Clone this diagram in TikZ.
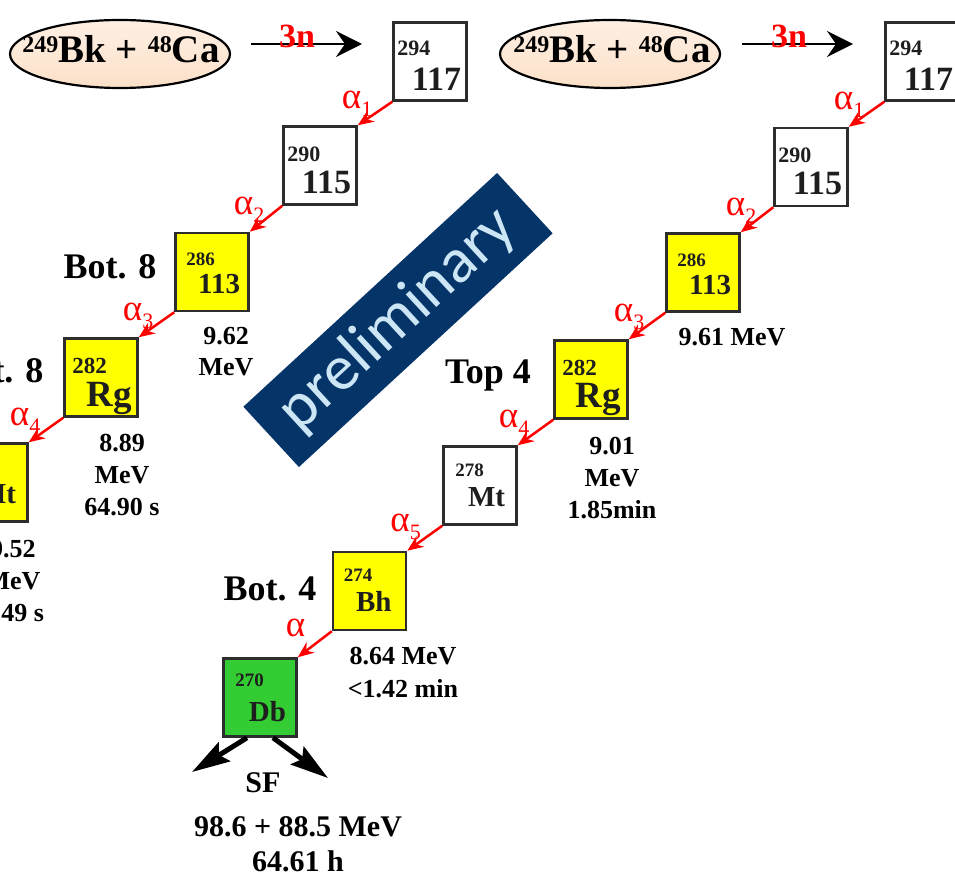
\documentclass[tikz,border=0pt]{standalone}
\usepackage{fontspec}
\setmainfont{Liberation Serif}
\newfontfamily\prelimfont{Carlito}
\usetikzlibrary{calc,arrows.meta,shapes.geometric}
\definecolor{boxline}{RGB}{45,45,45}
\definecolor{nyellow}{RGB}{255,255,0}
\definecolor{ngreen}{RGB}{51,204,51}
\definecolor{bannerblue}{RGB}{4,52,104}
\definecolor{bannertext}{RGB}{205,230,245}
\definecolor{peachA}{RGB}{254,240,228}
\definecolor{peachB}{RGB}{249,203,162}
\definecolor{peachC}{RGB}{252,224,200}
\definecolor{labtext}{RGB}{30,30,30}
\newcommand\fs[1]{\fontsize{#1}{#1}\selectfont}
\newcommand\alp[1]{α\raisebox{-0.22em}{\fs{22}#1}}
\newcommand\nuc[7]{%
  \node[mass,font=\bfseries\fs{#3}] at ($(#1.north west)+(#2)$) {#4};
  \node[sym,font=\bfseries\fs{#6}] at ($(#1.north west)+(#5)$) {#7};}
\tikzset{
  nucbox/.style={draw=boxline, line width=2.5pt, minimum width=73pt, minimum height=78pt, inner sep=0pt},
  mass/.style={inner sep=0pt, anchor=base west, text=labtext},
  sym/.style={inner sep=0pt, anchor=base east, text=labtext},
  adecay/.style={red, line width=2.5pt, -{Stealth[length=16pt,width=13pt]}},
  alab/.style={inner sep=0pt, anchor=base west, text=red, font=\fs{37}},
  info/.style={inner sep=0pt, font=\bfseries\fs{26}, text=black, align=center},
  sfinfo/.style={inner sep=0pt, font=\bfseries\fs{30}, text=black, align=center},
  title/.style={inner sep=0pt, anchor=base, font=\bfseries\fs{36}, text=black},
  ell/.style={ellipse, draw=black, line width=2.2pt, minimum width=220pt, minimum height=68pt, inner sep=0pt,
     top color=peachA, middle color=peachB, bottom color=peachC},
  etext/.style={inner sep=0pt, anchor=base, font=\bfseries\fs{39}, text=black},
  narrow/.style={black, line width=2pt, -{Stealth[length=26pt,width=26pt,inset=9pt]}},
  nlab/.style={inner sep=0pt, anchor=base, text=red, font=\bfseries\fs{34}},
  sfarrow/.style={black, line width=5pt, -{Stealth[length=38pt,width=22pt,inset=6pt]}},
  banner/.style={fill=bannerblue, minimum width=345pt, minimum height=82pt, inner sep=0pt,
     rotate=42.65, text=bannertext, font=\prelimfont\fs{64}}
}
\begin{document}
\begin{tikzpicture}[x=1pt,y=-1pt]
\useasboundingbox (0,0) rectangle (955,877);
\clip (0,0) rectangle (955,877);
\fill[white] (0,0) rectangle (955,877);

% ---------------- reactions
\node[ell] (E1) at (120,54) {};
\node[etext] (E1t) at (121,63) {\raisebox{10pt}{\fs{24}249}Bk + \raisebox{10pt}{\fs{24}48}Ca};
\node[ell] (E2) at (610,54) {};
\node[etext] (E2t) at (612,63) {\raisebox{10pt}{\fs{24}249}Bk + \raisebox{10pt}{\fs{24}48}Ca};
\coordinate (a1s) at (251,44); \coordinate (a1e) at (362,44);
\coordinate (a2s) at (742,44); \coordinate (a2e) at (853,44);
\draw[narrow] (a1s) -- (a1e);
\draw[narrow] (a2s) -- (a2e);
\node[nlab] (n1) at (297,48) {3n};
\node[nlab] (n2) at (789,48) {3n};

% ---------------- banner
\node[banner] (prelim) at (398,320) {preliminary};

% ---------------- left chain
\node[nucbox, fill=white] (L117) at (430,61.5) {};
\node[nucbox, fill=white] (L115) at (320,165.5) {};
\node[nucbox, fill=nyellow] (L113) at (212,272) {};
\node[nucbox, fill=nyellow] (LRg) at (101,377.5) {};
\node[nucbox, fill=nyellow] (LMt) at (-9,482.5) {};
\nuc{L117}{5,34}{22}{294}{69,69}{34}{117}
\nuc{L115}{5,36}{22}{290}{69,68}{34}{115}
\nuc{L113}{12,34}{19}{286}{66,62}{29}{113}
\nuc{LRg}{9,36}{23}{282}{69,69}{37}{Rg}
\nuc{LMt}{13,31}{19}{278}{63,61}{29}{Mt}
\draw[adecay] (L117.south west) -- (L115.north east);
\draw[adecay] (L115.south west) -- (L113.north east);
\draw[adecay] (L113.south west) -- (LRg.north east);
\draw[adecay] (LRg.south west) -- (LMt.north east);
\node[alab] at ($(L115.north east)+(-16,-17)$) {\alp{1}};
\node[alab] at ($(L113.north east)+(-16,-17)$) {\alp{2}};
\node[alab] at ($(LRg.north east)+(-16,-17)$) {\alp{3}};
\node[alab] at ($(LMt.north east)+(-19,-17)$) {\alp{4}};
\node[title] (tL1) at (110,279) {Bot. 8};
\node[title] (tL2) at (-3,382) {Bot. 8};
\node[info] (iL113) at (226,352) {9.62\\[5pt]MeV};
\node[info] (iLRg) at (122,475) {8.89\\[6pt]MeV\\[6pt]64.90 s};
\node[info] (iLMt) at (13,581) {9.52\\[6pt]MeV\\[6pt]0.49 s};

% ---------------- right chain
\node[nucbox, fill=white] (R117) at (922,61.5) {};
\node[nucbox, fill=white] (R115) at (811,167) {};
\node[nucbox, fill=nyellow] (R113) at (703,272.5) {};
\node[nucbox, fill=nyellow] (RRg) at (591,379.5) {};
\node[nucbox, fill=white] (RMt) at (480,485.5) {};
\node[nucbox, fill=nyellow] (RBh) at (369.5,591) {};
\node[nucbox, fill=ngreen] (RDb) at (260,697.5) {};
\nuc{R117}{5,34}{22}{294}{69,69}{34}{117}
\nuc{R115}{5,36}{22}{290}{69,68}{34}{115}
\nuc{R113}{12,34}{19}{286}{66,62}{29}{113}
\nuc{RRg}{9,36}{23}{282}{68,68}{37}{Rg}
\nuc{RMt}{13,31}{19}{278}{63,61}{29}{Mt}
\nuc{RBh}{12,31}{19}{274}{60,61}{29}{Bh}
\nuc{RDb}{13,29}{19}{270}{64,64}{29}{Db}
\draw[adecay] (R117.south west) -- (R115.north east);
\draw[adecay] (R115.south west) -- (R113.north east);
\draw[adecay] (R113.south west) -- (RRg.north east);
\draw[adecay] (RRg.south west) -- (RMt.north east);
\draw[adecay] (RMt.south west) -- (RBh.north east);
\draw[adecay] (RBh.south west) -- (RDb.north east);
\node[alab] at ($(R115.north east)+(-15,-17)$) {\alp{1}};
\node[alab] at ($(R113.north east)+(-15,-17)$) {\alp{2}};
\node[alab] at ($(RRg.north east)+(-15,-18)$) {\alp{3}};
\node[alab] at ($(RMt.north east)+(-19,-18)$) {\alp{4}};
\node[alab] at ($(RBh.north east)+(-17,-19)$) {\alp{5}};
\node[alab] at ($(RDb.north east)+(-12,-21)$) {α};
\node[title] (tR1) at (488,383) {Top 4};
\node[title] (tR2) at (270,600) {Bot. 4};
\node[info] (iR113) at (732,337) {9.61 MeV};
\node[info] (iRRg) at (612,478) {9.01\\[6pt]MeV\\[6pt]1.85min};
\node[info] (iRBh) at (403,673) {8.64 MeV\\[7pt]<1.42 min};

% ---------------- fission
\coordinate (sfL) at (192,772);
\coordinate (sfR) at (328,778);
\draw[sfarrow] ($(RDb.south)+(-13,0)$) -- (sfL);
\draw[sfarrow] ($(RDb.south)+(13,0)$) -- (sfR);
\node[sfinfo] (sf) at (263,783) {SF};
\node[sfinfo] (sfE) at (298,844) {98.6 + 88.5 MeV\\[5pt]64.61 h};
\end{tikzpicture}
\end{document}
